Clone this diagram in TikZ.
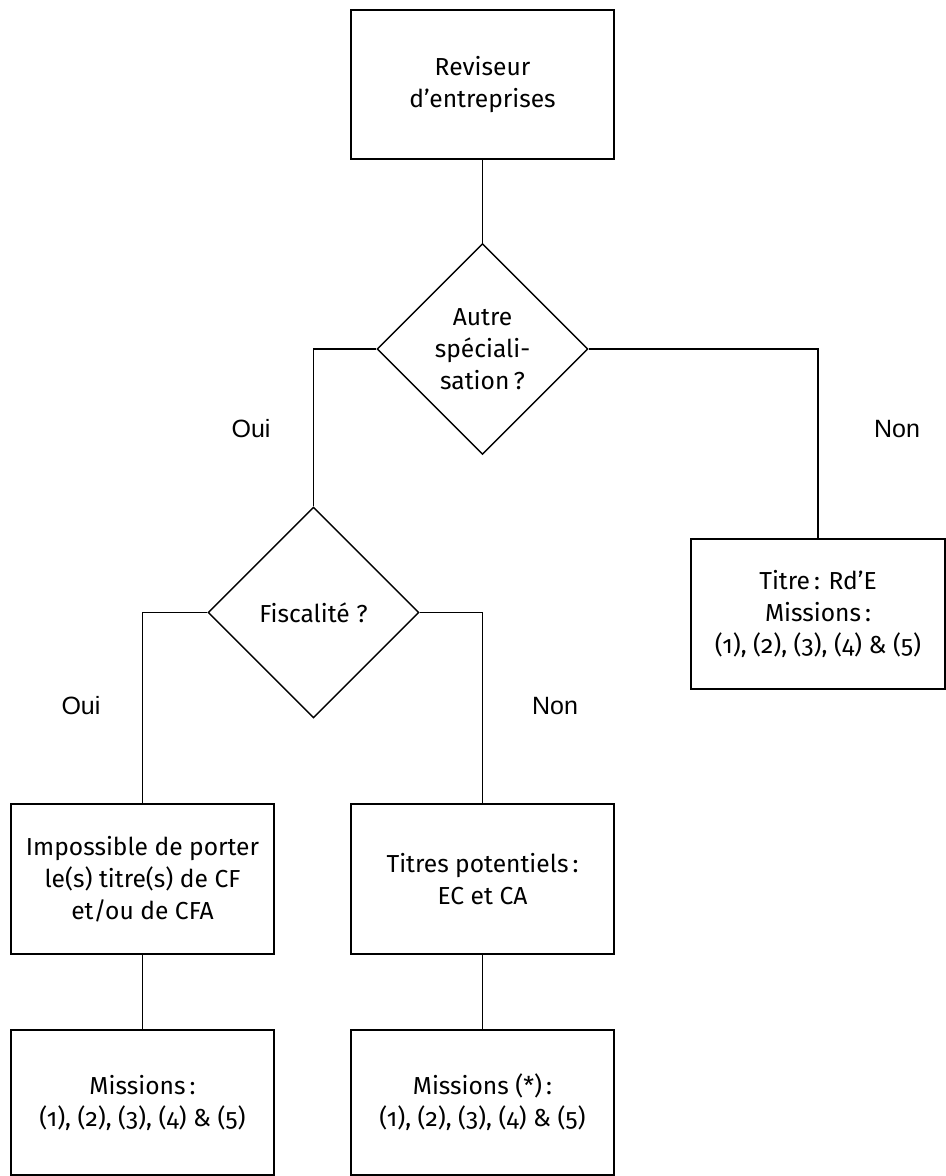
\documentclass[tikz,border=0pt]{standalone}
\usepackage{fontspec}
\setmainfont{Fira Sans}[Numbers=OldStyle]
\newfontfamily\labelfont{Liberation Sans}
\usetikzlibrary{shapes.geometric}

\begin{document}
\begin{tikzpicture}[x=0.5pt,y=-0.5pt,
	box/.style={draw,line width=0.7pt,inner sep=0pt,align=center,
		minimum width=\boxw,minimum height=\boxh,
		font=\fontsize{12.3}{16}\selectfont},
	decision/.style={draw,line width=0.7pt,shape=diamond,aspect=1,inner sep=0pt,
		minimum width=\diamw,minimum height=\diamw,align=center,
		font=\fontsize{12.3}{16}\selectfont},
	answer/.style={font=\labelfont\fontsize{12.5}{15}\selectfont},
	link/.style={line width=0.7pt}]

\def\boxw{131.5pt}
\def\boxh{75pt}
\def\diamw{105.5pt}

\useasboundingbox (0,0) rectangle (946,1176);

% Boxes
\node [box,minimum height=74.5pt] (rev) at (482.5,84.5) {Reviseur\\d’entreprises};
\node [decision] (spec) at (482.5,349) {Autre\\spéciali-\\sation\,?};
\node [decision] (fisc) at (313.5,612.5) {Fiscalité ?};
\node [box,minimum width=127pt] (rde) at (818,614) {Titre\,: Rd’E\\Missions\,:\\(1), (2), (3), (4) \& (5)};
\node [box] (cf) at (142.5,879) {Impossible de porter\\le(s) titre(s) de CF\\et/ou de CFA};
\node [box] (ec) at (482.5,879) {Titres potentiels\,:\\EC et CA};
\node [box,minimum height=72.5pt] (mcf) at (142.5,1102.5) {Missions\,:\\(1), (2), (3), (4) \& (5)};
\node [box,minimum height=72.5pt] (mec) at (482.5,1102.5) {Missions (*)\,:\\(1), (2), (3), (4) \& (5)};

% Lines
\draw [link] (rev) -- (spec);
\draw [link] (spec.west) -| (fisc.north);
\draw [link] (spec.east) -| (rde.north);
\draw [link] (fisc.west) -| (cf.north);
\draw [link] (fisc.east) -| (ec.north);
\draw [link] (cf) -- (mcf);
\draw [link] (ec) -- (mec);

% Answers
\node [answer] (oui1) at (251,429) {Oui};
\node [answer] (non1) at (897,429) {Non};
\node [answer] (oui2) at (81,706) {Oui};
\node [answer] (non2) at (555,706) {Non};

\end{tikzpicture}
\end{document}
